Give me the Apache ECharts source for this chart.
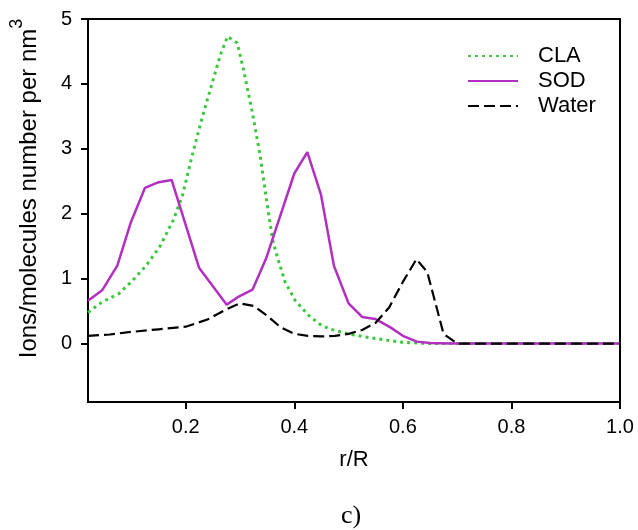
<!DOCTYPE html>
<html>
<head>
<meta charset="utf-8">
<script src="https://cdn.jsdelivr.net/npm/echarts@6/dist/echarts.min.js"></script>
<style>
  html, body { margin: 0; padding: 0; background: #fff; }
  #chart { width: 638px; height: 530px; }
</style>
</head>
<body>
<div id="chart"></div>
<script>
// ---- Data ----
const seriesNames = ['CLA', 'SOD', 'Water'];

const claData = [
  [0.02, 0.48], [0.046, 0.64], [0.077, 0.77], [0.102, 0.97], [0.127, 1.20],
  [0.152, 1.49], [0.177, 1.90], [0.194, 2.28], [0.212, 2.90], [0.231, 3.50],
  [0.25, 4.05], [0.264, 4.45], [0.277, 4.73], [0.295, 4.63], [0.307, 4.20],
  [0.323, 3.55], [0.337, 2.90], [0.35, 2.15], [0.36, 1.60], [0.37, 1.30],
  [0.383, 0.95], [0.402, 0.66], [0.427, 0.43], [0.45, 0.28], [0.468, 0.22],
  [0.49, 0.17], [0.511, 0.13], [0.54, 0.09], [0.572, 0.05], [0.60, 0.02],
  [0.634, 0.005], [0.66, 0], [1.0, 0]
];

const sodData = [
  [0.02, 0.66], [0.046, 0.82], [0.074, 1.20], [0.099, 1.87], [0.125, 2.40],
  [0.148, 2.48], [0.174, 2.52], [0.2245, 1.17], [0.2756, 0.60], [0.295, 0.71],
  [0.323, 0.83], [0.348, 1.31], [0.40, 2.62], [0.424, 2.95], [0.449, 2.30],
  [0.473, 1.20], [0.50, 0.62], [0.525, 0.41], [0.549, 0.38], [0.577, 0.25],
  [0.60, 0.12], [0.626, 0.03], [0.65, 0.01], [0.688, 0], [1.0, 0]
];

const waterData = [
  [0.02, 0.12], [0.06, 0.14], [0.10, 0.18], [0.15, 0.22], [0.20, 0.26],
  [0.24, 0.37], [0.275, 0.53], [0.30, 0.62], [0.325, 0.58], [0.35, 0.43],
  [0.375, 0.25], [0.40, 0.15], [0.425, 0.12], [0.45, 0.11], [0.475, 0.12],
  [0.50, 0.15], [0.525, 0.21], [0.55, 0.32], [0.575, 0.56], [0.60, 0.95],
  [0.625, 1.30], [0.645, 1.10], [0.675, 0.15], [0.70, 0], [1.0, 0]
];

const xTicks = [0.2, 0.4, 0.6, 0.8, 1.0];
const yTicks = [0, 1, 2, 3, 4, 5];
const xRange = [0.02, 1.0];
const yRange = [-0.9, 5];

const xTitle = 'r/R';
const yTitle = 'Ions/molecules number per nm';
const ySup = '3';
const caption = 'c)';

// ---- Chart ----
const font = "'Liberation Sans', Arial, sans-serif";
const chart = echarts.init(document.getElementById('chart'), null, { renderer: 'canvas' });

const option = {
  animation: false,
  backgroundColor: '#fff',
  grid: {
    left: 87, top: 19, right: 18, bottom: 128,
    show: true, borderColor: '#000', borderWidth: 2, backgroundColor: 'transparent'
  },
  legend: {
    data: seriesNames,
    orient: 'vertical',
    left: 462, top: 40,
    itemWidth: 50, itemHeight: 14, itemGap: 3,
    itemStyle: { opacity: 0 },
    textStyle: { fontFamily: font, fontSize: 22, color: '#000', padding: [0, 0, 0, 15] }
  },
  xAxis: {
    type: 'value',
    min: xRange[0], max: xRange[1],
    name: xTitle,
    nameLocation: 'middle',
    nameGap: 47,
    nameTextStyle: { fontFamily: font, fontSize: 22, color: '#000' },
    axisLine: { show: true, onZero: false, lineStyle: { color: '#000', width: 2 } },
    axisTick: { show: true, inside: false, length: 7, lineStyle: { color: '#000', width: 2 }, customValues: xTicks },
    axisLabel: { fontFamily: font, fontSize: 20, color: '#000', margin: 15, customValues: xTicks,
      formatter: v => v.toFixed(1) },
    splitLine: { show: false }
  },
  yAxis: {
    type: 'value',
    min: yRange[0], max: yRange[1],
    name: '{m|' + yTitle + '}{sup|' + ySup + '}',
    nameLocation: 'middle',
    nameGap: 38,
    nameTextStyle: {
      fontFamily: font, color: '#000', padding: [0, 0, 0, 44],
      rich: {
        m: { fontFamily: font, fontSize: 24, color: '#000' },
        sup: { fontFamily: font, fontSize: 18, color: '#000', padding: [0, 0, 24, 0] }
      }
    },
    axisLine: { show: true, onZero: false, lineStyle: { color: '#000', width: 2 } },
    axisTick: { show: true, inside: false, length: 7, lineStyle: { color: '#000', width: 2 }, customValues: yTicks },
    axisLabel: { fontFamily: font, fontSize: 20, color: '#000', margin: 16, customValues: yTicks },
    splitLine: { show: false }
  },
  graphic: [{
    type: 'text',
    left: 341, top: 503,
    style: { text: caption, fontFamily: "'Liberation Serif', 'Times New Roman', serif", fontSize: 26, fill: '#000' }
  }],
  series: [
    {
      name: 'CLA', type: 'line', data: claData, symbol: 'none', z: 2,
      lineStyle: { color: '#3cc83c', width: 3, type: [3, 4], cap: 'butt' },
      itemStyle: { color: '#3cc83c' }
    },
    {
      name: 'SOD', type: 'line', data: sodData, symbol: 'none', z: 3,
      lineStyle: { color: '#b32fc2', width: 2.5, type: 'solid' },
      itemStyle: { color: '#b32fc2' }
    },
    {
      name: 'Water', type: 'line', data: waterData, symbol: 'none', z: 4,
      lineStyle: { color: '#000', width: 2.2, type: [11, 5] },
      itemStyle: { color: '#000' }
    }
  ]
};
chart.setOption(option);
</script>
</body>
</html>
